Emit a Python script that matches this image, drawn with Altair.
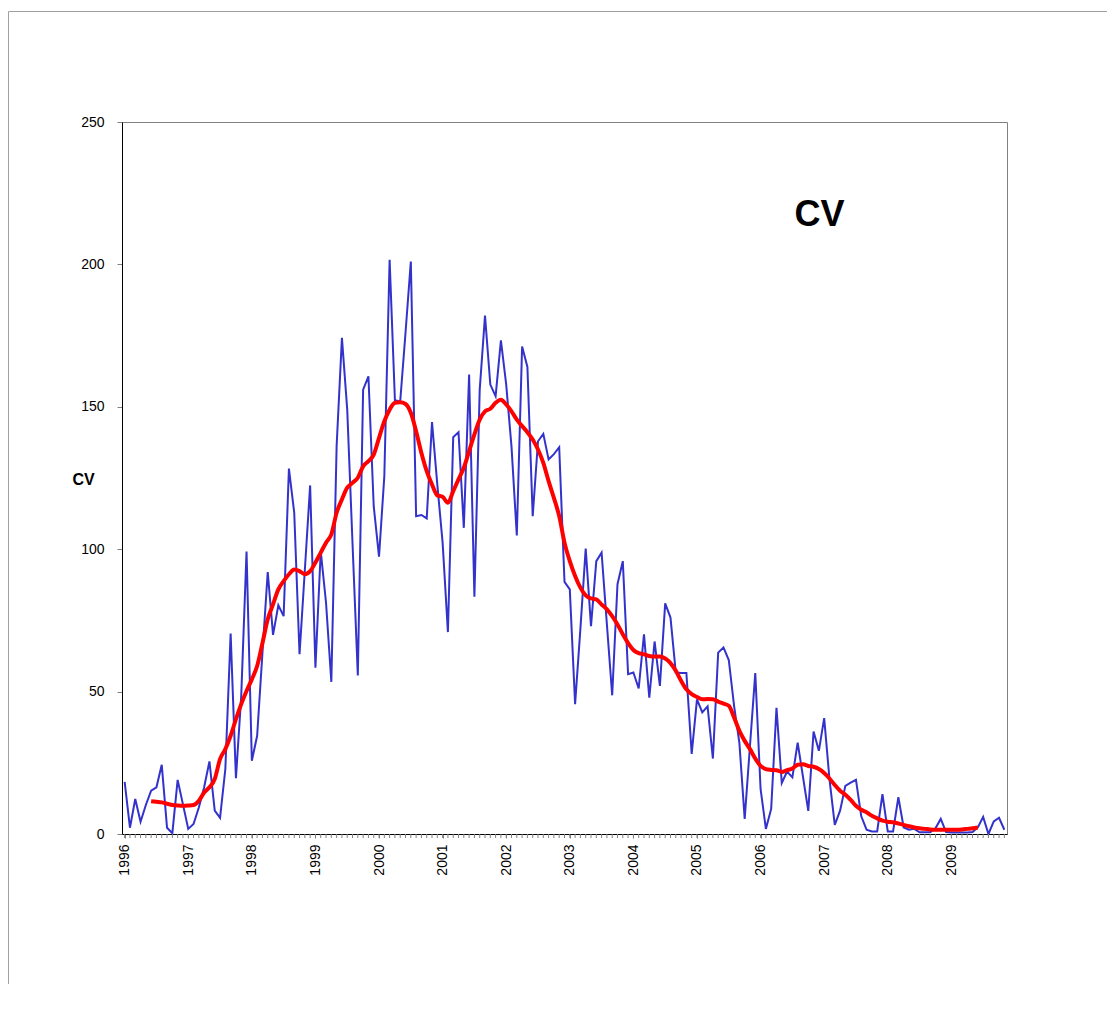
import altair as alt
import pandas as pd

# ---- data ----
years = ["1996", "1997", "1998", "1999", "2000", "2001", "2002",
         "2003", "2004", "2005", "2006", "2007", "2008", "2009"]
y_ticks = [0, 50, 100, 150, 200, 250]

# monthly CV values, Jan 1996 .. Nov 2009
cv_monthly = [
    18.3, 2.2, 12.3, 4.3, 10.2, 15.2, 16.4, 24.3, 2.2, 0.3, 19.0, 10.4,
    1.8, 3.5, 9.3, 16.4, 25.5, 8.2, 5.7, 22.8, 70.4, 19.6, 48.5, 99.2,
    25.7, 34.5, 63.5, 92.0, 69.9, 80.3, 76.5, 128.3, 112.8, 63.1, 92.6, 122.4,
    58.4, 99.3, 81.2, 53.4, 136.2, 174.2, 149.0, 102.0, 55.7, 156.0, 160.7, 115.1,
    97.4, 125.6, 201.6, 152.3, 151.9, 176.0, 201.0, 111.6, 112.0, 110.8, 144.6, 122.7,
    102.3, 70.9, 139.3, 141.1, 107.5, 161.3, 83.3, 156.0, 182.0, 157.8, 153.7, 173.3,
    157.8, 136.0, 104.8, 171.2, 164.0, 111.6, 137.9, 140.5, 131.5, 133.4, 135.8, 88.5,
    85.9, 45.6, 72.0, 100.2, 73.0, 95.8, 98.8, 73.6, 48.7, 87.7, 95.8, 56.1,
    56.7, 51.1, 70.1, 47.9, 67.6, 52.0, 81.0, 76.0, 56.7, 56.5, 56.5, 28.1,
    47.3, 42.7, 44.8, 26.5, 63.7, 65.5, 61.1, 45.0, 32.0, 5.3, 31.0, 56.5,
    15.8, 1.8, 8.8, 44.3, 17.9, 21.9, 19.9, 32.1, 20.1, 8.1, 36.0, 29.2,
    40.7, 19.3, 3.2, 8.2, 16.9, 18.0, 19.0, 6.2, 1.5, 0.9, 0.9, 14.0,
    0.9, 0.9, 12.9, 2.3, 1.5, 1.8, 0.6, 0.6, 0.6, 2.0, 5.3, 0.7,
    0.5, 0.5, 0.5, 0.5, 0.7, 2.3, 6.0, 0.0, 4.4, 5.7, 1.5,
]

# smoothed (red) series, starting at month index 5
smooth_start = 5
cv_smoothed = [
    11.5, 11.3, 11.1, 10.6, 10.2, 10.0, 9.9,
    10.0, 10.2, 11.7, 14.6, 16.4, 19.3, 26.3, 29.8, 34.5, 40.3, 45.6, 50.2,
    54.3, 59.0, 67.0, 75.4, 80.6, 85.9, 88.8, 91.2, 92.9, 92.3, 91.2, 92.3,
    95.3, 98.8, 102.3, 105.2, 112.8, 117.5, 121.6, 123.3, 125.1, 129.1, 130.9, 133.2,
    139.1, 144.9, 149.0, 151.4, 151.6, 151.0, 147.9, 141.4, 133.8, 127.4, 122.7, 118.9,
    118.4, 116.3, 120.4, 124.5, 128.6, 134.4, 140.3, 145.5, 148.4, 149.3, 151.4, 152.5,
    150.8, 148.4, 145.5, 143.2, 141.1, 138.5, 135.0, 130.3, 123.9, 118.0, 111.6, 102.3,
    95.8, 90.6, 86.5, 83.8, 82.7, 82.4, 80.6, 78.9, 76.5, 73.6, 70.1, 67.0,
    64.6, 63.5, 63.1, 62.5, 62.3, 62.3, 61.6, 60.0, 57.3, 53.8, 50.8, 49.1,
    48.1, 47.3, 47.4, 47.3, 46.5, 45.8, 45.0, 40.9, 36.2, 32.7, 29.8, 26.5,
    23.9, 22.8, 22.5, 22.4, 21.8, 22.4, 23.0, 24.3, 24.5, 23.9, 23.6, 22.8,
    21.4, 19.5, 17.2, 15.2, 13.8, 12.0, 9.9, 8.5, 7.6, 6.4, 5.5, 4.7,
    4.3, 4.1, 3.7, 3.2, 2.7, 2.3, 2.0, 1.8, 1.6, 1.5, 1.5, 1.5,
    1.5, 1.5, 1.6, 1.8, 2.0, 2.3,
]

n = len(cv_monthly)
df_blue = pd.DataFrame({"m": list(range(n)), "cv": cv_monthly})
df_red = pd.DataFrame({"m": list(range(smooth_start, smooth_start + len(cv_smoothed))),
                       "cv": cv_smoothed})
df_ticks = pd.DataFrame({"m": list(range(n))})
one = pd.DataFrame({"k": [0]})

W, H = 885, 712
PAD_R, PAD_B = 100, 150
FONT = "Liberation Sans"

year_values = [12 * k for k in range(len(years))]
year_arr = "[" + ",".join("'%s'" % y for y in years) + "]"
label_expr = year_arr + "[round(datum.value / 12)]"

x_enc = alt.X(
    "m:Q",
    scale=alt.Scale(domain=[-0.5, n - 0.5], nice=False, zero=False),
    axis=alt.Axis(
        values=year_values, labelExpr=label_expr, labelAngle=270,
        labelAlign="right", labelBaseline="middle", labelOverlap=False,
        labelFlush=False, tickSize=4, tickColor="#808080", domainColor="black",
        labelFont=FONT, labelFontSize=14, labelColor="black", labelPadding=6,
        title=None, grid=False,
    ),
)
y_enc = alt.Y(
    "cv:Q",
    scale=alt.Scale(domain=[0, 250], nice=False),
    axis=alt.Axis(
        values=y_ticks, tickSize=5, tickColor="#808080", domainColor="black",
        labelFont=FONT, labelFontSize=14, labelColor="black", labelPadding=13,
        title="CV", titleAngle=0, titleX=-39, titleY=H / 2 + 1,
        titleAlign="center", titleBaseline="middle", titleFont=FONT,
        titleFontSize=16, titleFontWeight="bold", titleColor="black", grid=False,
    ),
)

# monthly minor ticks under the category axis
month_ticks = alt.Chart(df_ticks).mark_rule(color="#808080", strokeWidth=1).encode(
    x="m:Q", y=alt.value(H), y2=alt.value(H + 4))

blue = alt.Chart(df_blue).mark_line(color="#3333CC", strokeWidth=2).encode(x=x_enc, y=y_enc)
red = alt.Chart(df_red).mark_line(color="#FF0000", strokeWidth=4,
                                  interpolate="monotone").encode(x="m:Q", y="cv:Q")

label = alt.Chart(one).mark_text(
    text="CV", font=FONT, fontSize=36, fontWeight="bold", color="black",
    align="center", baseline="alphabetic",
).encode(x=alt.value(697.5), y=alt.value(104))

frame_top = alt.Chart(one).mark_rule(color="#A0A0A0", strokeWidth=1).encode(
    x=alt.value(-113.5), x2=alt.value(W + PAD_R), y=alt.value(-110.5))
frame_left = alt.Chart(one).mark_rule(color="#A0A0A0", strokeWidth=1).encode(
    x=alt.value(-113.5), y=alt.value(-110.5), y2=alt.value(H + PAD_B))

chart = alt.layer(frame_top, frame_left, blue, month_ticks, red, label).properties(
    width=W, height=H,
    autosize=alt.AutoSizeParams(type="none"),
    padding={"left": 114, "top": 114, "right": PAD_R, "bottom": PAD_B},
    background="white",
).configure_view(stroke="#808080", strokeWidth=1)

chart.save("out.html", embed_options={"renderer": "svg", "actions": False})
